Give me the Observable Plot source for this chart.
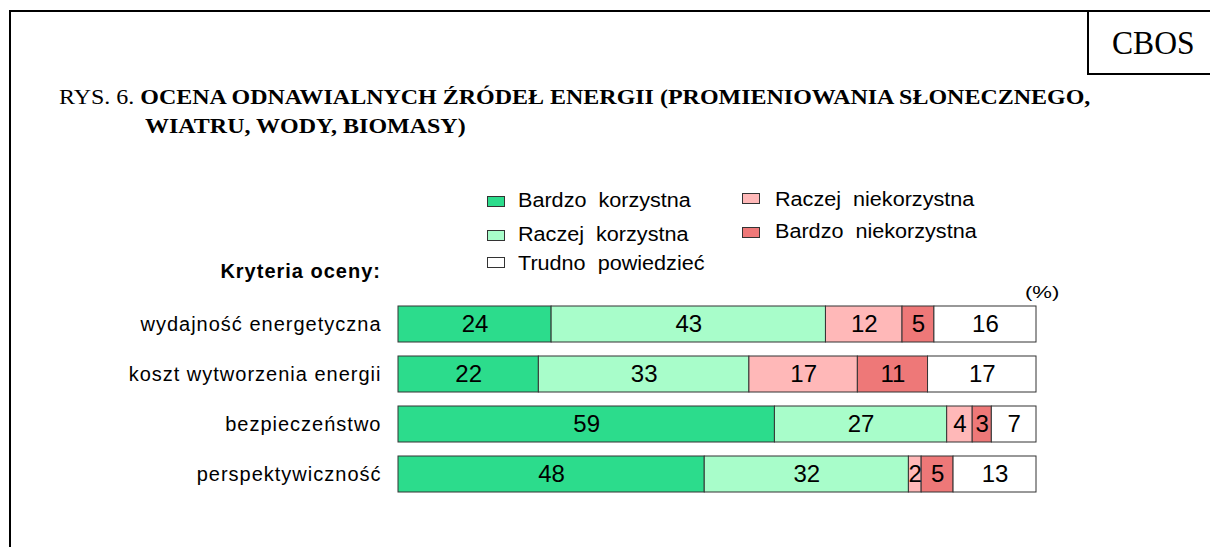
<!DOCTYPE html>
<html>
<head>
<meta charset="utf-8">
<script src="https://cdn.jsdelivr.net/npm/d3@7"></script>
<script src="https://cdn.jsdelivr.net/npm/@observablehq/plot@0.6"></script>
<style>
  html, body { margin: 0; padding: 0; background: #fff; }
  #page { position: relative; width: 1210px; height: 547px; overflow: hidden; background: #fff; }
  .abs { position: absolute; white-space: pre; line-height: normal; }
  .serif { font-family: "Liberation Serif", "Times New Roman", serif; color: #000; }
  .sans { font-family: "Liberation Sans", Arial, sans-serif; color: #000; }
  .sx { transform-origin: 0 0; }
  .sw { position: absolute; width: 18px; height: 11px; border: 1px solid #333; box-sizing: border-box; }
  #chart svg g[aria-label="y-axis tick label"] text { letter-spacing: 1px; }
</style>
</head>
<body>
<div id="page">
  <div class="abs" style="left:10px; top:10px; width:1200px; height:2px; background:#000;"></div>
  <div class="abs" style="left:9px; top:10px; width:2px; height:537px; background:#000;"></div>
  <div class="abs" style="left:1087px; top:10px; width:2px; height:65px; background:#000;"></div>
  <div class="abs" style="left:1087px; top:73px; width:123px; height:2px; background:#000;"></div>
  <div class="abs serif sx" style="left:1112px; top:24px; font-size:34px; transform:scaleX(0.93);">CBOS</div>
  <div class="abs serif sx" style="left:59px; top:84px; font-size:22px; transform:scaleX(1.09);">RYS. 6. <b>OCENA ODNAWIALNYCH ŹRÓDEŁ ENERGII (PROMIENIOWANIA SŁONECZNEGO,</b></div>
  <div class="abs serif sx" style="left:145px; top:113px; font-size:22px; transform:scaleX(1.09);"><b>WIATRU, WODY, BIOMASY)</b></div>
  <div class="abs sans" style="right:829px; top:260px; font-size:20px; font-weight:bold; letter-spacing:1px;">Kryteria oceny:</div>
  <div class="abs sans sx" style="left:1025px; top:283px; font-size:17px; transform:scaleX(1.3);">(%)</div>
  <div id="legend"></div>
  <div id="chart" class="abs" style="left:0; top:0;"></div>
</div>
<script>
const categories = ["wydajność energetyczna", "koszt wytworzenia energii", "bezpieczeństwo", "perspektywiczność"];
const seriesNames = ["Bardzo  korzystna", "Raczej  korzystna", "Raczej  niekorzystna", "Bardzo  niekorzystna", "Trudno  powiedzieć"];
const seriesColors = ["#2CDC8C", "#A8FDCA", "#FFB8B8", "#EE7878", "#FFFFFF"];
const bardzoKorzystna = [24, 22, 59, 48];
const raczejKorzystna = [43, 33, 27, 32];
const raczejNiekorzystna = [12, 17, 4, 2];
const bardzoNiekorzystna = [5, 11, 3, 5];
const trudnoPowiedziec = [16, 17, 7, 13];

const seriesValues = [bardzoKorzystna, raczejKorzystna, raczejNiekorzystna, bardzoNiekorzystna, trudnoPowiedziec];
const rows = [];
seriesNames.forEach((s, si) => {
  categories.forEach((c, ci) => {
    rows.push({category: c, series: s, order: si, value: seriesValues[si][ci]});
  });
});

const chart = Plot.plot({
  width: 1210,
  height: 547,
  marginLeft: 398,
  marginRight: 174,
  marginTop: 299,
  marginBottom: 48,
  style: {fontFamily: "Liberation Sans, Arial, sans-serif", background: "transparent", color: "#000"},
  x: {domain: [0, 100], axis: null},
  y: {domain: categories, paddingInner: 0.28, paddingOuter: 0.14, axis: null},
  color: {domain: seriesNames, range: seriesColors},
  marks: [
    Plot.axisY({tickSize: 0, tickPadding: 17, fontSize: 20, label: null}),
    Plot.barX(rows, Plot.stackX({x: "value", y: "category", fill: "series", order: "order", stroke: "#333", strokeWidth: 1})),
    Plot.text(rows, Plot.stackX({x: "value", y: "category", z: "series", order: "order", text: d => String(d.value), fontSize: 24, fill: "#000"}))
  ]
});
document.getElementById("chart").appendChild(chart);

// legend: swatch top-left and text baseline
const legendPos = [
  {x: 487, y: 196, tx: 518, base: 207},
  {x: 487, y: 230, tx: 518, base: 241},
  {x: 742, y: 193, tx: 775, base: 206},
  {x: 742, y: 227, tx: 775, base: 238},
  {x: 487, y: 257, tx: 518, base: 270}
];
const lg = document.getElementById("legend");
seriesNames.forEach((s, i) => {
  const p = legendPos[i];
  const sw = document.createElement("div");
  sw.className = "sw";
  sw.style.left = p.x + "px";
  sw.style.top = p.y + "px";
  sw.style.background = seriesColors[i];
  lg.appendChild(sw);
  const t = document.createElement("div");
  t.className = "abs sans sx";
  t.style.left = p.tx + "px";
  t.style.top = (p.base - 18.4) + "px";
  t.style.fontSize = "20px";
  t.style.transform = "scaleX(1.08)";
  t.textContent = s;
  lg.appendChild(t);
});
</script>
</body>
</html>
